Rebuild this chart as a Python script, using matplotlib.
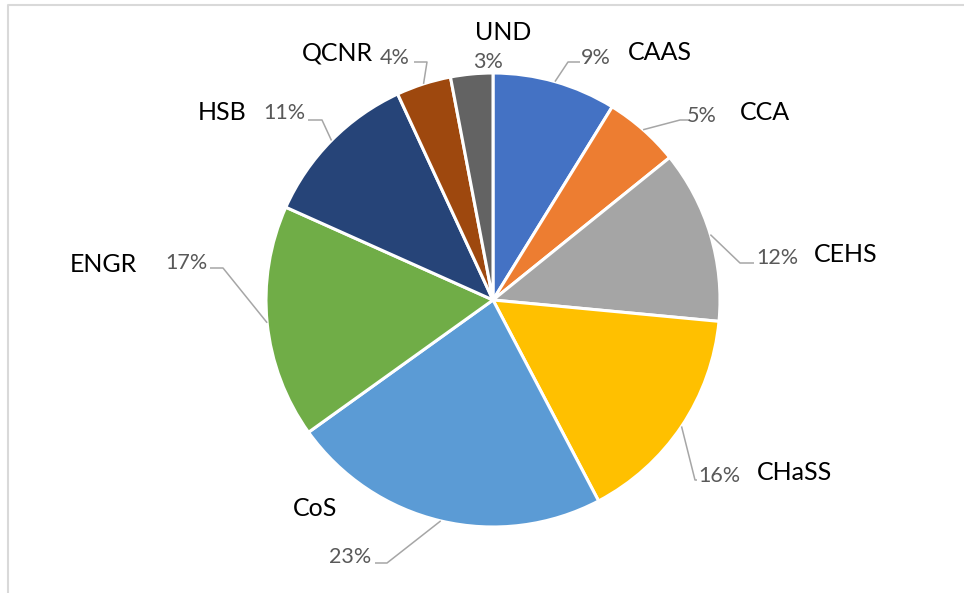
import matplotlib.pyplot as plt
import numpy as np

# Дані діаграми
colleges = ['CAAS', 'CCA', 'CEHS', 'CHaSS', 'CoS', 'ENGR', 'HSB', 'QCNR', 'UND']
shares = [8.8, 5.4, 12.3, 15.8, 22.8, 16.6, 11.4, 3.9, 3.0]
colors = ['#4472C4', '#ED7D31', '#A5A5A5', '#FFC000', '#5B9BD5',
          '#70AD47', '#264478', '#9E480E', '#636363']

W, H = 964, 593
CX, CY, R = 493, 300, 227

# розміщення підписів (координати в пікселях картинки): відсоток, назва, злам лінії, кінець лінії
layout = {
    'CAAS':  ((596, 58), (660, 53), (568, 62), (580, 62)),
    'CCA':   ((702, 116), (765, 112), (680, 120), (690, 120)),
    'CEHS':  ((777, 258), (846, 255), (740, 263), (754, 263)),
    'CHaSS': ((719, 476), (795, 472), (695, 480), (697, 480)),
    'CoS':   ((350, 557), (315, 508), (387, 563), (375, 563)),
    'ENGR':  ((186, 263), (103, 265), (223, 268), (210, 268)),
    'HSB':   ((284, 113), (222, 113), (322, 120), (308, 120)),
    'QCNR':  ((395, 58), (337, 53), (427, 62), (414, 62)),
    'UND':   ((488, 62), (503, 33), None, None),
}

plt.rcParams['font.family'] = ['Lato', 'DejaVu Sans']

fig = plt.figure(figsize=(W / 100, H / 100), dpi=100)
ax = fig.add_axes([0, 0, 1, 1])

wedges, _ = ax.pie(shares, colors=colors, startangle=90, counterclock=False,
                   center=(CX, H - CY), radius=R,
                   wedgeprops=dict(edgecolor='white', linewidth=2.2))

total = sum(shares)
for w, name, val in zip(wedges, colleges, shares):
    pct_xy, name_xy, elbow, end = layout[name]
    ax.text(pct_xy[0], H - pct_xy[1], f'{round(val / total * 100):.0f}%',
            ha='center', va='center', fontsize=15.5, color='#595959')
    ax.text(name_xy[0], H - name_xy[1], name, ha='center', va='center',
            fontsize=18, color='black')
    if elbow is not None:
        mid = np.deg2rad((w.theta1 + w.theta2) / 2)
        x0 = CX + R * np.cos(mid)
        y0 = (H - CY) + R * np.sin(mid)
        ax.plot([x0, elbow[0], end[0]], [y0, H - elbow[1], H - end[1]],
                color='#A6A6A6', lw=1.1, solid_capstyle='butt')

# рамка області діаграми
ax.plot([8, 8, W], [0, H - 5, H - 5], color='#D9D9D9', lw=1.5)

ax.set_xlim(0, W)
ax.set_ylim(0, H)
ax.set_aspect('equal')
ax.axis('off')

plt.savefig('out.png', dpi=100)
